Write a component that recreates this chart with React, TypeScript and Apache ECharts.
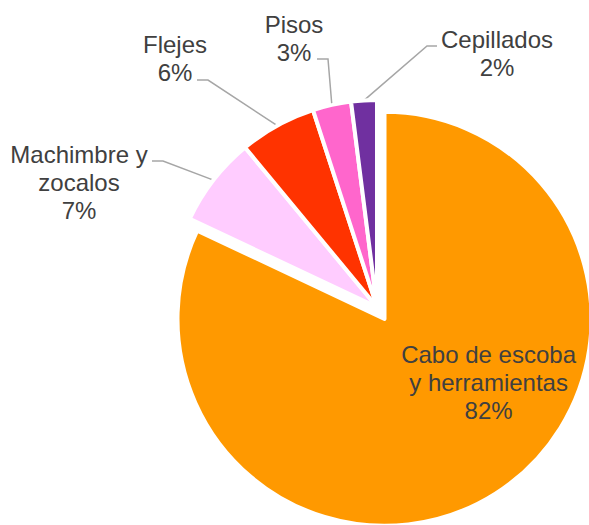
import React, { useEffect, useRef } from "react";
import * as echarts from "echarts";

const categories = [
  "Cabo de escoba y herramientas",
  "Machimbre y zocalos",
  "Flejes",
  "Pisos",
  "Cepillados",
];
const labelTexts = [
  "Cabo de escoba\ny herramientas",
  "Machimbre y\nzocalos",
  "Flejes",
  "Pisos",
  "Cepillados",
];
const percentages = [82, 7, 6, 3, 2];
const sliceColors = ["#FF9900", "#FFCCFF", "#FF3300", "#FF66CC", "#7030A0"];

// label layout (not data): block centres, leader attach offsets from centre, elbow dx
const labelCenters: [number, number][] = [
  [487, 385],
  [79, 182],
  [175, 58],
  [294, 38],
  [497, 53],
];
const attachOffsets: [number, number, number][] = [
  [0, 0, 0],
  [73, -21, 11],
  [22, 22, 11],
  [23, 21, 11],
  [-60, -7, -10],
];

export default function App() {
  const ref = useRef<HTMLDivElement>(null);
  useEffect(() => {
    if (!ref.current) return;
    const chart = echarts.init(ref.current, null, { renderer: "svg" });
    chart.setOption({
      animation: false,
      backgroundColor: "#ffffff",
      series: [
        {
          type: "pie",
          center: [377, 307],
          radius: 207,
          startAngle: 90,
          clockwise: true,
          avoidLabelOverlap: false,
          selectedMode: "multiple",
          selectedOffset: 14,
          itemStyle: { borderColor: "#ffffff", borderWidth: 4 },
          emphasis: { disabled: true },
          label: {
            show: true,
            position: "outside",
            fontFamily: "Liberation Sans, Arial, sans-serif",
            fontSize: 24,
            lineHeight: 28,
            color: "#404040",
            align: "center",
            formatter: (p: any) => `${labelTexts[p.dataIndex]}\n${p.value}%`,
          },
          labelLine: {
            show: true,
            length: 15,
            length2: 10,
            lineStyle: { color: "#A6A6A6", width: 1.5 },
          },
          labelLayout: (params: any) => {
            const i = params.dataIndex;
            if (i === 0) return {};
            const c = labelCenters[i];
            const out: any = {
              x: c[0],
              y: c[1],
              align: "center",
              verticalAlign: "middle",
            };
            const pts = params.labelLinePoints;
            if (pts && pts.length) {
              const a = attachOffsets[i];
              const ax = c[0] + a[0];
              const ay = c[1] + a[1];
              out.labelLinePoints = [
                [pts[0][0], pts[0][1]],
                [ax + a[2], ay],
                [ax, ay],
              ];
            }
            return out;
          },
          data: categories.map((name, i) => ({
            name,
            value: percentages[i],
            selected: i === 0,
            itemStyle: { color: sliceColors[i] },
            ...(i === 0
              ? {
                  label: {
                    position: "inside",
                    padding: [0, 0, 0, 94],
                    formatter: (p: any) =>
                      `${labelTexts[p.dataIndex]}\n${p.value}%\n{sp|}`,
                    rich: { sp: { height: 52, lineHeight: 52, fontSize: 1 } },
                  },
                  labelLine: { show: false },
                }
              : {}),
          })),
        },
      ],
    });
    return () => chart.dispose();
  }, []);
  return (
    <div
      ref={ref}
      style={{ position: "fixed", left: 0, top: 0, width: 589, height: 525 }}
    />
  );
}
